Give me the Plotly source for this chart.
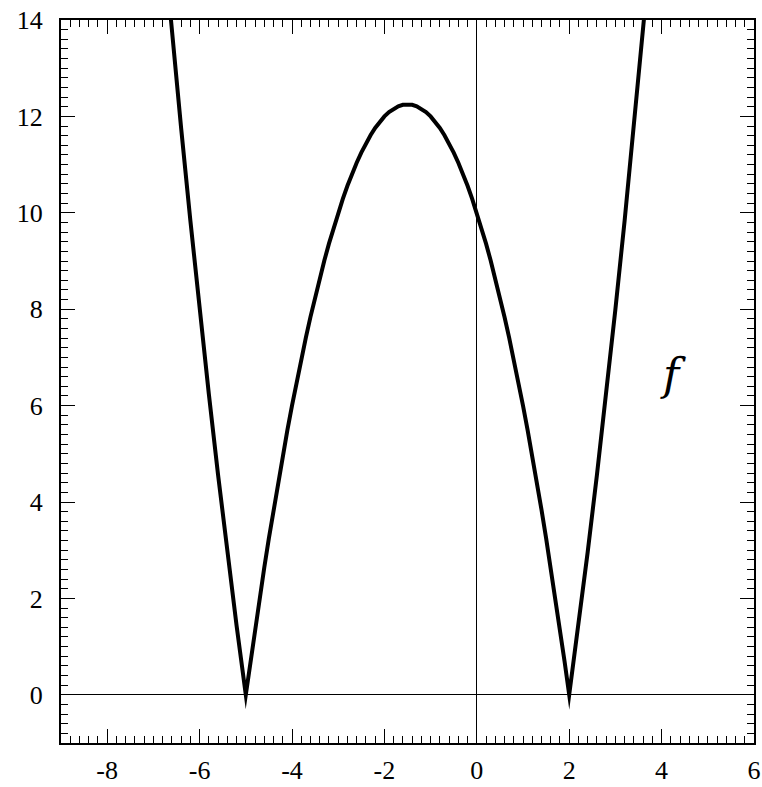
import plotly.graph_objects as go

left_x = [-6.8, -6.6, -6.4, -6.2, -6.0, -5.8, -5.6, -5.4, -5.2]
left_y = [15.84, 13.76, 11.76, 9.84, 8.0, 6.24, 4.56, 2.96, 1.44]
mid_x = [-5.0, -4.9, -4.8, -4.7, -4.6, -4.5, -4.4, -4.3, -4.2, -4.1, -4.0, -3.9, -3.8, -3.7,
         -3.6, -3.5, -3.4, -3.3, -3.2, -3.1, -3.0, -2.9, -2.8, -2.7, -2.6, -2.5, -2.4, -2.3,
         -2.2, -2.1, -2.0, -1.9, -1.8, -1.7, -1.6, -1.5, -1.4, -1.3, -1.2, -1.1, -1.0, -0.9,
         -0.8, -0.7, -0.6, -0.5, -0.4, -0.3, -0.2, -0.1, 0.0, 0.1, 0.2, 0.3, 0.4, 0.5, 0.6,
         0.7, 0.8, 0.9, 1.0, 1.1, 1.2, 1.3, 1.4, 1.5, 1.6, 1.7, 1.8, 1.9, 2.0]
mid_y = [0.0, 0.69, 1.36, 2.01, 2.64, 3.25, 3.84, 4.41, 4.96, 5.49, 6.0, 6.49, 6.96, 7.41,
         7.84, 8.25, 8.64, 9.01, 9.36, 9.69, 10.0, 10.29, 10.56, 10.81, 11.04, 11.25, 11.44, 11.61,
         11.76, 11.89, 12.0, 12.09, 12.16, 12.21, 12.24, 12.25, 12.24, 12.21, 12.16, 12.09, 12.0, 11.89,
         11.76, 11.61, 11.44, 11.25, 11.04, 10.81, 10.56, 10.29, 10.0, 9.69, 9.36, 9.01, 8.64, 8.25, 7.84,
         7.41, 6.96, 6.49, 6.0, 5.49, 4.96, 4.41, 3.84, 3.25, 2.64, 2.01, 1.36, 0.69, 0.0]
right_x = [2.2, 2.4, 2.6, 2.8, 3.0, 3.2, 3.4, 3.6, 3.8]
right_y = [1.44, 2.96, 4.56, 6.24, 8.0, 9.84, 11.76, 13.76, 15.84]

x_ticks = [-8, -6, -4, -2, 0, 2, 4, 6]
y_ticks = [0, 2, 4, 6, 8, 10, 12, 14]
label_text = "f"
label_pos = (4.25, 6.65)

FONT = "Liberation Serif, Times New Roman, serif"
LABEL_FONT = "DejaVu Serif, Liberation Serif, serif"

fig = go.Figure()
fig.add_trace(go.Scatter(x=left_x + mid_x + right_x, y=left_y + mid_y + right_y, mode="lines",
                         line=dict(color="black", width=4), hoverinfo="skip"))

fig.add_annotation(x=label_pos[0], y=label_pos[1], text="<i>" + label_text + "</i>",
                   showarrow=False, font=dict(family=LABEL_FONT, size=44, color="black"))

axis_common = dict(
    showgrid=False, zeroline=True, zerolinecolor="black", zerolinewidth=1,
    showline=True, linecolor="black", linewidth=2, mirror="allticks",
    ticks="inside", ticklen=14, tickwidth=1.3, tickcolor="black", automargin=False,
    tickfont=dict(family=FONT, size=26, color="black"),
    minor=dict(ticks="inside", ticklen=7, tickwidth=1.3, tickcolor="black", dtick=0.2),
)

fig.update_xaxes(range=[-9, 6], tickvals=x_ticks, ticktext=[str(v) for v in x_ticks],
                 ticklabelstandoff=3, **axis_common)
fig.update_yaxes(range=[-1, 14], tickvals=y_ticks, ticktext=[str(v) for v in y_ticks],
                 ticklabelstandoff=11, **axis_common)

fig.update_layout(width=762, height=787, margin=dict(l=61, r=8, t=20, b=44, autoexpand=False),
                  plot_bgcolor="white", paper_bgcolor="white", showlegend=False)

fig.write_html("out.html", config={"displayModeBar": False}, post_script=(
    "var st=document.createElement('style');"
    "st.textContent='html,body{margin:0!important;padding:0!important;overflow:hidden!important;}'+"
    "'.scatterlayer path.js-line{stroke-linejoin:miter!important;stroke-miterlimit:30!important;}';"
    "document.head.appendChild(st);"))
